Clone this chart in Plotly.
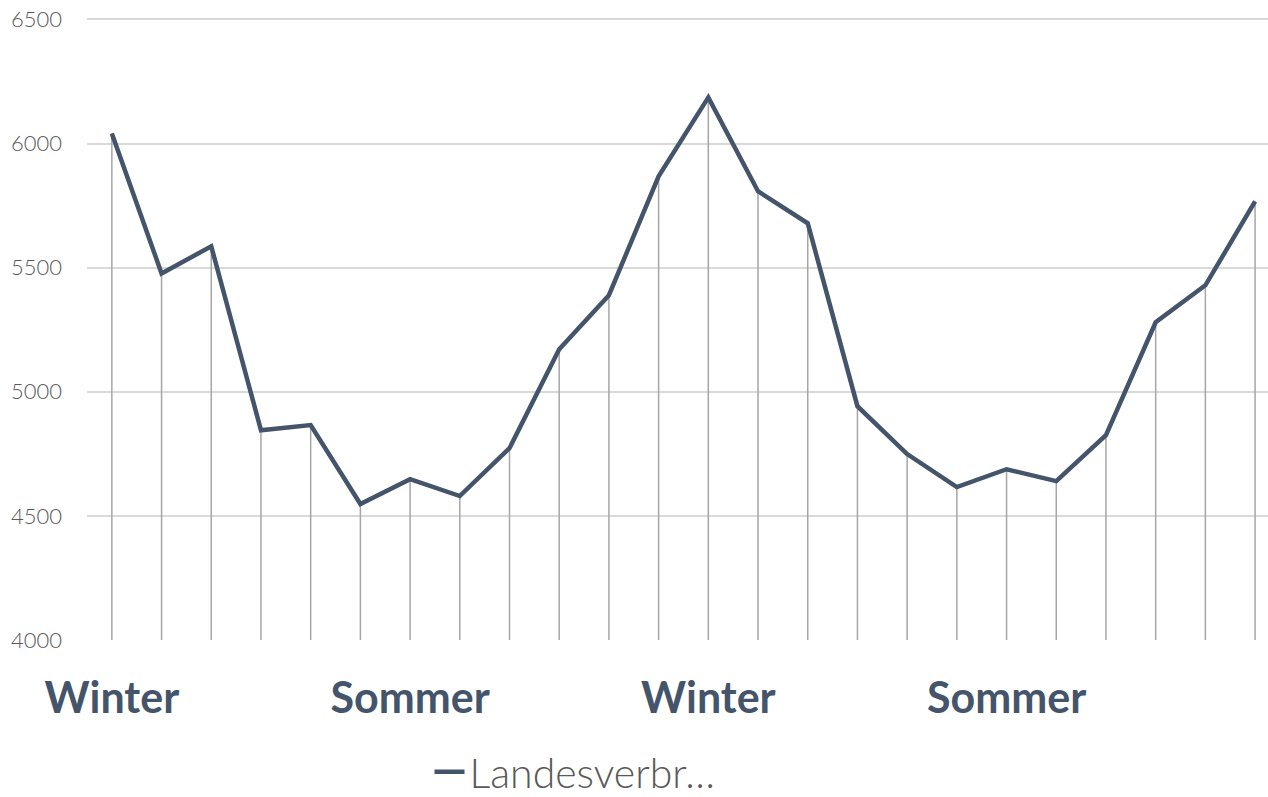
import plotly.graph_objects as go

categories = list(range(24))
values = [6041, 5477, 5586, 4845, 4866, 4548, 4648, 4580, 4773, 5171, 5389, 5868,
          6186, 5808, 5679, 4942, 4749, 4616, 4688, 4640, 4825, 5280, 5429, 5767]
tick_positions = [0, 6, 12, 18]
tick_labels = ["Winter", "Sommer", "Winter", "Sommer"]
y_ticks = [4000, 4500, 5000, 5500, 6000, 6500]
series_name = "Landesverbr…"
y_min = 4000

drop_x, drop_y = [], []
for c, v in zip(categories, values):
    drop_x += [c, c, None]
    drop_y += [y_min, v, None]

fig = go.Figure()
fig.add_trace(go.Scatter(x=drop_x, y=drop_y, mode="lines",
                         line=dict(color="#a6a6a6", width=1.5),
                         showlegend=False, hoverinfo="skip", cliponaxis=False))
fig.add_trace(go.Scatter(x=categories, y=values, mode="lines", name=series_name,
                         line=dict(color="#44546a", width=4.5), cliponaxis=False))

fig.update_layout(
    width=1268, height=797,
    margin=dict(l=87, r=0, t=16.5, b=157, autoexpand=False),
    paper_bgcolor="white", plot_bgcolor="white",
    showlegend=True,
    legend=dict(orientation="h", x=0.29, xanchor="left", y=-0.212, yanchor="middle",
                font=dict(family="Lato, sans-serif", size=41, color="#595959", weight=300)),
    xaxis=dict(range=[-0.5, 23.26], tickmode="array", tickvals=tick_positions,
               ticktext=tick_labels, showgrid=False, zeroline=False, showline=False,
               ticks="", ticklabelstandoff=29, automargin=False,
               tickfont=dict(family="Lato, sans-serif", size=43, color="#44546a",
                             weight="bold")),
    yaxis=dict(range=[4000, 6510], tickvals=y_ticks,
               showgrid=True, gridcolor="#d9d9d9", gridwidth=1.5, zeroline=False,
               showline=False, ticks="", ticklabelstandoff=24, automargin=False,
               ticklabeloverflow="allow",
               tickfont=dict(family="Lato, sans-serif", size=22, color="#595959",
                             weight=300)),
)

fig.write_html("out.html", config={"displayModeBar": False},
               post_script="document.body.style.margin='0';")
